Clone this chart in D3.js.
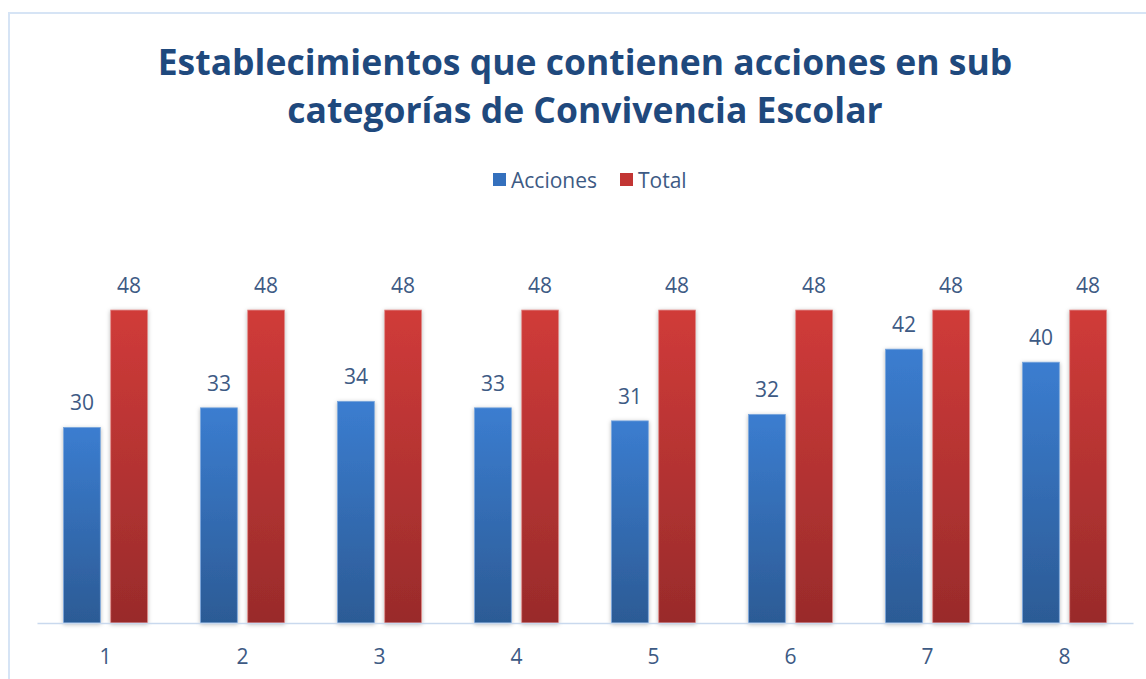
<!DOCTYPE html>
<html>
<head>
<meta charset="utf-8">
<script src="https://cdn.jsdelivr.net/npm/d3@7"></script>
<style>
  html, body { margin: 0; padding: 0; background: #ffffff; }
  svg { display: block; }
</style>
</head>
<body>
<svg id="chart" width="1146" height="679"></svg>
<script>
const categories = ["1", "2", "3", "4", "5", "6", "7", "8"];
const seriesNames = ["Acciones", "Total"];
const acciones = [30, 33, 34, 33, 31, 32, 42, 40];
const total = [48, 48, 48, 48, 48, 48, 48, 48];
const titleLines = ["Establecimientos que contienen acciones en sub", "categorías de Convivencia Escolar"];

const W = 1146, H = 679;
const textColor = "#3d5a84";
const svg = d3.select("#chart");
const defs = svg.append("defs");

function grad(id, top, bottom) {
  const g = defs.append("linearGradient").attr("id", id)
    .attr("x1", 0).attr("y1", 0).attr("x2", 0).attr("y2", 1);
  g.append("stop").attr("offset", "0%").attr("stop-color", top);
  g.append("stop").attr("offset", "100%").attr("stop-color", bottom);
}
grad("gBlue", "#3b7dd0", "#2c5b95");
grad("gRed", "#d03b39", "#992b2b");

const f = defs.append("filter").attr("id", "shadow")
  .attr("x", "-30%").attr("y", "-10%").attr("width", "160%").attr("height", "120%");
f.append("feDropShadow").attr("dx", 0).attr("dy", 1).attr("stdDeviation", 2.2)
  .attr("flood-color", "#000").attr("flood-opacity", 0.28);

// chart border
svg.append("rect").attr("x", 9).attr("y", 13).attr("width", W + 20).attr("height", H + 20)
  .attr("fill", "none").attr("stroke", "#d6e4f5").attr("stroke-width", 2);

// title
svg.append("g").selectAll("text").data(titleLines).join("text")
  .attr("x", 585).attr("y", (d, i) => 75 + i * 48)
  .attr("text-anchor", "middle")
  .attr("font-family", "'Open Sans', 'Noto Sans', sans-serif")
  .attr("font-weight", 700).attr("font-size", 35.5)
  .attr("fill", "#1f497d")
  .text(d => d);

// legend
const colors = ["url(#gBlue)", "url(#gRed)"];
const legendX = [493, 620];
const lg = svg.append("g");
seriesNames.forEach((name, i) => {
  lg.append("rect").attr("x", legendX[i]).attr("y", 173).attr("width", 13).attr("height", 13)
    .attr("fill", i === 0 ? "#3470bd" : "#c23533");
  lg.append("text").attr("x", legendX[i] + 18).attr("y", 188)
    .attr("font-family", "'Open Sans', 'Noto Sans', sans-serif")
    .attr("font-size", 21).attr("fill", textColor)
    .text(name);
});

// scales
const x = d3.scaleBand().domain(categories).range([37, 1133]).padding(0);
const y = d3.scaleLinear().domain([0, 50]).range([623, 297]);
const inner = d3.scaleBand().domain(seriesNames)
  .range([x.bandwidth() / 2 - 42, x.bandwidth() / 2 + 42]).paddingInner(0.22);

const data = categories.map((c, i) => ({ cat: c, vals: [acciones[i], total[i]] }));

const groups = svg.append("g").selectAll("g").data(data).join("g")
  .attr("transform", d => `translate(${x(d.cat)},0)`);

groups.selectAll("rect").data(d => d.vals.map((v, j) => ({ v, j })))
  .join("rect")
  .attr("x", d => inner(seriesNames[d.j]))
  .attr("y", d => y(d.v))
  .attr("width", inner.bandwidth())
  .attr("height", d => y(0) - y(d.v))
  .attr("fill", d => colors[d.j])
  .attr("stroke", d => d.j === 0 ? "#7aa6dc" : "#e08a88")
  .attr("stroke-width", 0.8)
  .attr("filter", "url(#shadow)");

groups.selectAll("text.val").data(d => d.vals.map((v, j) => ({ v, j })))
  .join("text").attr("class", "val")
  .attr("x", d => inner(seriesNames[d.j]) + inner.bandwidth() / 2)
  .attr("y", d => y(d.v) - 17)
  .attr("text-anchor", "middle")
  .attr("font-family", "'Open Sans', 'Noto Sans', sans-serif")
  .attr("font-size", 21).attr("fill", textColor)
  .text(d => d.v);

// x axis
const axis = svg.append("g").attr("transform", `translate(0,${y(0)})`)
  .call(d3.axisBottom(x).tickSize(0).tickPadding(26));
axis.select(".domain").attr("stroke", "#c9d9ee").attr("stroke-width", 1.5);
axis.selectAll("text")
  .attr("font-family", "'Open Sans', 'Noto Sans', sans-serif")
  .attr("font-size", 21).attr("fill", textColor);
</script>
</body>
</html>
